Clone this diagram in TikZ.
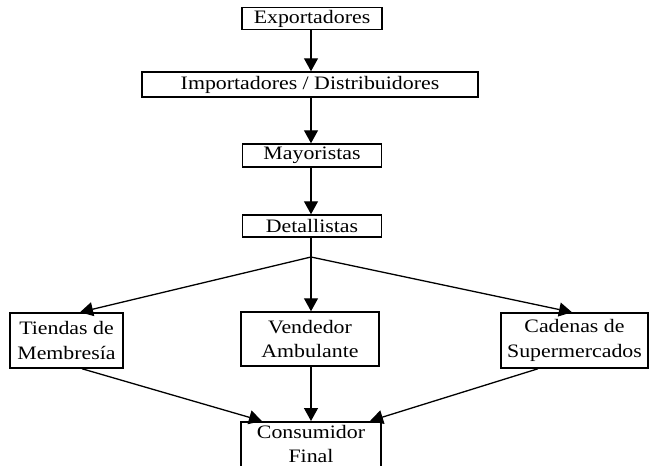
\documentclass[tikz,border=0pt]{standalone}
\usepackage{fontspec}
\setmainfont[FakeStretch=1.15]{Liberation Serif}
\usetikzlibrary{arrows.meta}

\begin{document}
\begin{tikzpicture}[x=1pt,y=-1pt]
      \useasboundingbox (0,0) rectangle (651,466);
      \begin{scope}[every node/.style={rectangle,draw,line width=1.5pt,inner sep=0.5pt,align=center,
          font=\fontsize{19}{24.5}\selectfont}]
        \node[minimum width=140pt,minimum height=22pt] (exp) at (312,18.5) {Exportadores};
        \node[minimum width=336pt,minimum height=25pt] (imp) at (310,84.5) {Importadores / Distribuidores};
        \node[minimum width=139pt,minimum height=23pt] (may) at (312,155.5) {Mayoristas};
        \node[minimum width=139pt,minimum height=22pt] (det) at (312,226) {Detallistas};
        \node[minimum width=113pt,minimum height=55pt] (tie) at (66.5,340.5) {Tiendas de\\Membresía};
        \node[minimum width=138pt,minimum height=54pt] (ven) at (310,339) {Vendedor\\Ambulante};
        \node[minimum width=147pt,minimum height=55pt] (cad) at (574.5,340.5) {Cadenas de\\Supermercados};
        \node[minimum width=140pt,inner ysep=3.5pt,text depth=40pt,anchor=north] (con) at (311,421) {Consumidor\\Final};
      \end{scope}
      \coordinate (split) at (311,257);
      \begin{scope}[every edge/.style={draw,line width=1.3pt,-{Triangle[width=14pt,length=13pt]}}]
        \path (exp.south -| 311,0) edge (imp.north -| 311,0);
        \path (imp.south -| 311,0) edge (may.north -| 311,0);
        \path (may.south -| 311,0) edge (det.north -| 311,0);
        \draw[line width=1.3pt] (det.south -| 311,0) -- (split);
        \path (split) edge (tie.north -| 80,0);
        \path (split) edge (ven.north -| 311,0);
        \path (split) edge (cad.north -| 572,0);
        \path (tie.south -| 82,0) edge (con.north -| 262,0);
        \path (ven.south -| 311,0) edge (con.north -| 311,0);
        \path (cad.south -| 538,0) edge (con.north -| 370,0);
      \end{scope}
    \end{tikzpicture}
\end{document}
